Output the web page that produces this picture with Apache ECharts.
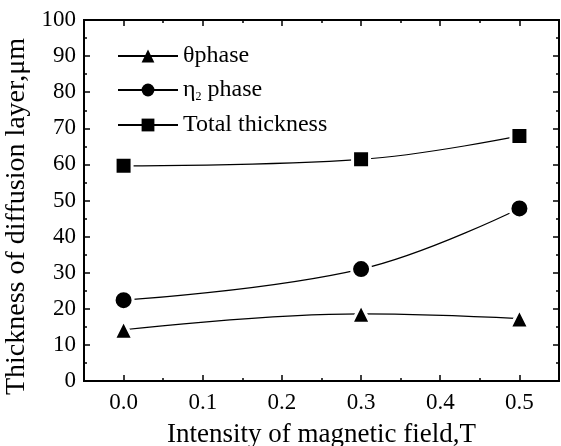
<!DOCTYPE html>
<html>
<head>
<meta charset="utf-8">
<script src="https://cdn.jsdelivr.net/npm/echarts@6/dist/echarts.min.js"></script>
<style>html,body{margin:0;padding:0;background:#fff}#c{width:561px;height:446px}</style>
</head>
<body>
<div id="c"></div>
<script>
var fieldT = [0.0, 0.3, 0.5];
var thetaPhase = [14.2, 18.6, 17.3];
var eta2Phase = [22.4, 31.0, 47.8];
var totalThickness = [59.6, 61.4, 67.9];
var xMajorTicks = [0.0, 0.1, 0.2, 0.3, 0.4, 0.5];
var seriesNames = ['θphase', 'η2 phase', 'Total thickness'];

function pairs(xs, ys) { return xs.map(function (x, i) { return [x, ys[i]]; }); }

var FONT = '"Liberation Serif", "Times New Roman", serif';
var chart = echarts.init(document.getElementById('c'), null, {renderer: 'canvas'});

function xAxisBase(pos, major, showName) {
  var a = {
    type: 'value', position: pos, min: -0.05, max: 0.55, interval: 0.05,
    axisLine: {show: true, onZero: false, lineStyle: {color: '#000', width: 2}},
    splitLine: {show: false},
    axisTick: {show: true, inside: true, length: major ? 6 : 3, lineStyle: {color: '#000', width: 1.5}},
    axisLabel: {show: false}
  };
  if (major) {
    a.axisTick.customValues = xMajorTicks;
    if (pos === 'bottom') {
      a.axisLabel = {show: true, customValues: xMajorTicks, fontFamily: FONT, fontSize: 23, color: '#000', margin: 10,
        formatter: function (v) { return v.toFixed(1); }};
    }
  }
  if (showName) {
    a.name = 'Intensity of magnetic field,T';
    a.nameLocation = 'middle';
    a.nameGap = 40;
    a.nameTextStyle = {fontFamily: FONT, fontSize: 27, color: '#000'};
  }
  return a;
}

function yAxisBase(pos, showLabels) {
  var a = {
    type: 'value', position: pos, min: 0, max: 100, interval: 10,
    axisLine: {show: true, onZero: false, lineStyle: {color: '#000', width: 2}},
    splitLine: {show: false},
    axisTick: {show: true, inside: true, length: 6, lineStyle: {color: '#000', width: 1.5}},
    minorTick: {show: true, splitNumber: 2, length: 3, lineStyle: {color: '#000', width: 1.5}},
    axisLabel: {show: showLabels, fontFamily: FONT, fontSize: 23, color: '#000', margin: 8}
  };
  if (showLabels) {
    a.name = 'Thickness of diffusion layer,μm';
    a.nameLocation = 'middle';
    a.nameGap = 50;
    a.nameTextStyle = {fontFamily: FONT, fontSize: 28, color: '#000', padding: [0, 32, 0, 0]};
  }
  return a;
}

var symbols = ['triangle', 'circle', 'rect'];
var datasets = [thetaPhase, eta2Phase, totalThickness];
var series = seriesNames.map(function (n, i) {
  return {
    name: n, type: 'line', smooth: 0.4, xAxisIndex: 0, yAxisIndex: 0,
    data: pairs(fieldT, datasets[i]),
    symbol: symbols[i], symbolSize: i === 2 ? 17 : 19,
    lineStyle: {color: '#000', width: 1.2},
    itemStyle: {color: '#000', borderColor: '#fff', borderWidth: 3},
    z: 3
  };
});

chart.setOption({
  animation: false,
  backgroundColor: '#fff',
  grid: {left: 84, right: 2, top: 20, bottom: 65, containLabel: false, outerBoundsMode: 'none'},
  legend: {
    orient: 'vertical', left: 112, top: 39, itemWidth: 60, itemHeight: 16, itemGap: 10,
    data: seriesNames,
    itemStyle: {borderWidth: 0},
    formatter: function (n) { return n === 'η2 phase' ? '{a|η}{s|2}{a| phase}' : '{a|' + n + '}'; },
    textStyle: {fontFamily: FONT, fontSize: 24, color: '#000',
      rich: {a: {fontFamily: FONT, fontSize: 24, color: '#000'},
             s: {fontFamily: FONT, fontSize: 12, color: '#000', verticalAlign: 'bottom', padding: [14, 0, 0, 0]}}}
  },
  xAxis: [xAxisBase('bottom', false, false), xAxisBase('bottom', true, true), xAxisBase('top', false, false), xAxisBase('top', true, false)],
  yAxis: [yAxisBase('left', true), yAxisBase('right', false)],
  series: series
});
</script>
</body>
</html>
